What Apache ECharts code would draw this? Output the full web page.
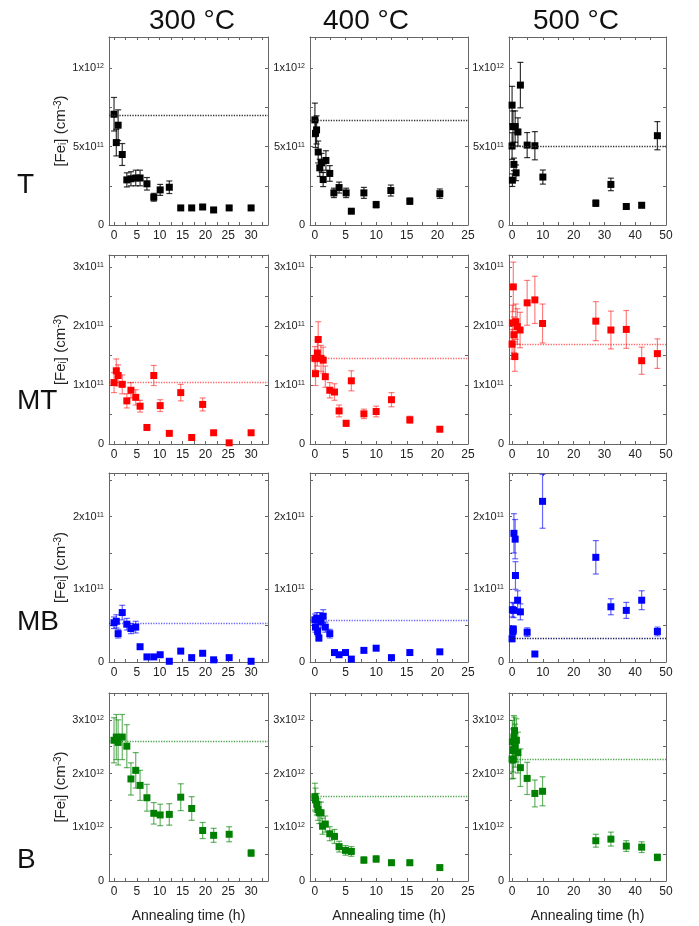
<!DOCTYPE html>
<html>
<head>
<meta charset="utf-8">
<script src="https://cdn.jsdelivr.net/npm/echarts@6.0.0/dist/echarts.min.js"></script>
<style>
html, body { margin: 0; padding: 0; background: #fff; }
#main { width: 699px; height: 926px; }
</style>
</head>
<body>
<div id="main"></div>
<script>
// [annealing time (h), [Fe_i] in row unit, error]
// rows T, MT, MB in 1e11 cm^-3, row B in 1e12 cm^-3
var T300 = [[0,7.07,1.07],[0.5,5.26,0.85],[0.9,6.37,0.98],[1.8,4.5,0.7],[2.8,2.88,0.45],[3.7,2.95,0.45],[4.75,3.0,0.5],[5.7,3.0,0.5],[7.2,2.63,0.4],[8.7,1.77,0.25],[10.1,2.24,0.35],[12.1,2.41,0.4],[14.6,1.09,0.12],[17.0,1.09,0.1],[19.4,1.15,0.12],[21.8,0.96,0.08],[25.2,1.09,0.1],[30.0,1.09,0.1]];
var T400 = [[0,6.71,1.07],[0.1,5.85,0.9],[0.27,6.07,0.9],[0.54,4.66,0.7],[0.8,3.65,0.55],[1.08,3.97,0.6],[1.35,2.9,0.45],[1.8,4.12,0.62],[2.43,3.29,0.5],[3.1,2.05,0.3],[3.95,2.39,0.35],[5.1,2.05,0.3],[5.95,0.88,0.05],[8.0,2.05,0.35],[10.0,1.3,0.2],[12.4,2.2,0.35],[15.5,1.52,0.2],[20.4,2.0,0.3]];
var T500 = [[0,7.65,1.2],[0,5.04,0.85],[0.1,2.86,0.4],[0.3,6.28,1.0],[0.6,3.87,0.4],[1.0,6.28,1.0],[1.3,3.33,0.5],[1.9,5.94,0.9],[2.7,8.93,1.45],[4.9,5.1,0.8],[7.4,5.06,0.9],[10,3.06,0.45],[27.2,1.39,0.2],[32.1,2.59,0.4],[37.1,1.18,0.1],[42.1,1.26,0.15],[47.2,5.7,0.9]];

var MT300 = [[0,1.04,0.17],[0.5,1.24,0.2],[0.9,1.16,0.18],[1.8,1.01,0.16],[2.8,0.73,0.12],[3.7,0.91,0.13],[4.75,0.79,0.13],[5.7,0.64,0.1],[7.2,0.28,0],[8.7,1.16,0.17],[10.1,0.65,0.1],[12.1,0.18,0],[14.6,0.87,0.14],[17.0,0.11,0],[19.4,0.67,0.11],[21.8,0.19,0],[25.2,0.02,0],[30.0,0.19,0]];
var MT400 = [[0,1.45,0.2],[0.1,1.19,0.2],[0.4,1.54,0.22],[0.54,1.77,0.3],[1.0,1.45,0.22],[1.35,1.42,0.22],[1.7,1.14,0.18],[2.43,0.91,0.13],[3.2,0.88,0.14],[3.95,0.56,0.1],[5.1,0.35,0.05],[5.95,1.07,0.17],[8.0,0.51,0.08],[10.0,0.55,0.09],[12.5,0.75,0.12],[15.5,0.41,0.06],[20.4,0.25,0.03]];
var MT500 = [[0,1.69,0.25],[0.1,2.05,0.3],[0.4,2.66,0.42],[0.6,1.85,0.3],[0.9,1.48,0.25],[1.2,2.07,0.3],[1.7,1.99,0.3],[2.6,1.93,0.3],[4.9,2.39,0.38],[7.4,2.44,0.4],[9.9,2.04,0.33],[27.2,2.08,0.33],[32.1,1.93,0.32],[37.1,1.94,0.32],[42.1,1.41,0.23],[47.2,1.53,0.25]];

var MB300 = [[0,0.54,0.08],[0.5,0.56,0.09],[0.9,0.39,0.06],[1.8,0.68,0.1],[2.8,0.52,0.08],[3.7,0.46,0.07],[4.75,0.48,0.08],[5.7,0.21,0],[7.2,0.07,0],[8.7,0.07,0],[10.1,0.1,0],[12.1,0.01,0],[14.6,0.15,0],[17.0,0.06,0],[19.4,0.12,0],[21.8,0.03,0],[25.2,0.06,0],[30.0,0.01,0]];
var MB400 = [[0,0.58,0.08],[0.1,0.48,0.07],[0.3,0.6,0.08],[0.45,0.42,0.06],[0.65,0.33,0.04],[0.8,0.6,0.08],[1.0,0.55,0.08],[1.35,0.63,0.09],[1.7,0.48,0.07],[2.43,0.39,0.06],[3.2,0.13,0],[3.95,0.1,0],[5.0,0.13,0],[5.95,0.04,0],[8.0,0.16,0],[10.0,0.19,0],[12.5,0.06,0],[15.5,0.13,0],[20.4,0.14,0]];
var MB500 = [[0,0.32,0.04],[0.1,0.72,0.1],[0.3,0.42,0.05],[0.4,0.45,0.05],[0.5,0.71,0.1],[0.6,1.77,0.27],[1.0,1.69,0.27],[1.1,1.19,0.19],[1.8,0.85,0.13],[2.7,0.69,0.11],[4.9,0.41,0.06],[7.4,0.11,0],[9.9,2.21,0.37],[27.2,1.44,0.23],[32.1,0.76,0.11],[37.1,0.71,0.11],[42.1,0.85,0.13],[47.2,0.42,0.06]];

var B300 = [[0,2.62,0.42],[0.5,2.68,0.42],[0.9,2.58,0.42],[1.8,2.68,0.42],[2.8,2.51,0.4],[3.7,1.9,0.3],[4.75,2.06,0.33],[5.7,1.78,0.28],[7.2,1.55,0.25],[8.7,1.26,0.2],[10.1,1.23,0.2],[12.1,1.24,0.2],[14.6,1.56,0.25],[17.0,1.35,0.22],[19.4,0.94,0.15],[21.8,0.85,0.13],[25.2,0.87,0.14],[30.0,0.52,0.06]];
var B400 = [[0,1.57,0.25],[0.1,1.51,0.22],[0.3,1.43,0.2],[0.5,1.33,0.2],[0.7,1.27,0.2],[1.0,1.27,0.2],[1.25,1.02,0.15],[1.7,1.06,0.15],[2.43,0.88,0.13],[3.2,0.83,0.13],[3.95,0.64,0.1],[5.0,0.57,0.09],[5.95,0.55,0.09],[8.0,0.39,0.06],[10.0,0.41,0.06],[12.5,0.34,0.05],[15.5,0.34,0.05],[20.4,0.25,0.03]];
var B500 = [[0,2.27,0.37],[0.1,2.59,0.4],[0.3,2.43,0.4],[0.4,2.26,0.35],[0.6,2.68,0.4],[0.8,2.8,0.25],[1.0,2.52,0.4],[1.4,2.62,0.4],[1.9,2.39,0.38],[2.7,2.11,0.35],[4.9,1.91,0.3],[7.4,1.63,0.25],[9.9,1.67,0.27],[27.2,0.75,0.12],[32.1,0.78,0.13],[37.1,0.65,0.1],[42.1,0.63,0.1],[47.2,0.44,0.06]];

// initial level (dotted line) per row / column
var refT = [7.03, 6.71, 5.0];
var refMT = [1.04, 1.45, 1.69];
var refMB = [0.53, 0.58, 0.32];
var refB = [2.6, 1.57, 2.26];

var rowNames = ['T', 'MT', 'MB', 'B'];
var temps = ['300 °C', '400 °C', '500 °C'];

// axis ticks
var xMin = [-1.1, -0.8, -1];
var xMax = [33.7, 25, 50];
var xTicks = [[0, 5, 10, 15, 20, 25, 30], [0, 5, 10, 15, 20, 25], [0, 10, 20, 30, 40, 50]];
var xMinor = [[2.5, 7.5, 12.5, 17.5, 22.5, 27.5, 32.5], [2.5, 7.5, 12.5, 17.5, 22.5], [5, 15, 25, 35, 45]];
var yMax = [12, 3.2, 2.6, 3.5];
var yTicks = [[0, 5, 10], [0, 1, 2, 3], [0, 1, 2], [0, 1, 2, 3]];
var yMinor = [[2.5, 7.5], [0.5, 1.5, 2.5], [0.5, 1.5, 2.5], [0.5, 1.5, 2.5]];
var yTickText = [
    ['0', '5x10{s|11}', '1x10{s|12}'],
    ['0', '1x10{s|11}', '2x10{s|11}', '3x10{s|11}'],
    ['0', '1x10{s|11}', '2x10{s|11}'],
    ['0', '1x10{s|12}', '2x10{s|12}', '3x10{s|12}']
];

var panels = [[T300, T400, T500], [MT300, MT400, MT500], [MB300, MB400, MB500], [B300, B400, B500]];
var refs = [refT, refMT, refMB, refB];

// layout / style
var colLeft = [109, 310, 509];
var colRight = [268, 468, 666];
var rowTop = [37, 255, 473, 693];
var rowBottom = [225, 444, 662, 881];
var headerX = [187, 361, 571];
var colors = ['#000000', '#ff0000', '#0000ff', '#008000'];
var errColors = ['rgba(0,0,0,0.8)', 'rgba(255,0,0,0.5)', 'rgba(0,0,255,0.6)', 'rgba(0,128,0,0.6)'];
var dotColors = ['#333333', 'rgba(255,0,0,0.6)', 'rgba(0,0,255,0.6)', 'rgba(0,128,0,0.7)'];
var font = 'Liberation Sans, Arial, sans-serif';
var frame = '#666';

var chart = echarts.init(document.getElementById('main'));

var grids = [], xAxes = [], yAxes = [], series = [];
var titles = [];

temps.forEach(function (t, c) {
    titles.push({
        text: t, left: headerX[c], top: 2, textAlign: 'center',
        textStyle: { fontSize: 28, fontWeight: 'normal', color: '#111', fontFamily: font }
    });
});
rowNames.forEach(function (n, r) {
    titles.push({
        text: n, left: 12, top: [166, 382, 603, 841][r],
        textStyle: { fontSize: 28, fontWeight: 'normal', color: '#111', fontFamily: font }
    });
});

function errorRender(color) {
    return function (params, api) {
        var x = api.value(0), y = api.value(1), e = api.value(2);
        if (!e) return null;
        var top = api.coord([x, y + e]);
        var bot = api.coord([x, y - e]);
        var w = 3;
        var st = { stroke: color, lineWidth: 1.2 };
        return {
            type: 'group',
            children: [
                { type: 'line', shape: { x1: top[0], y1: top[1], x2: bot[0], y2: bot[1] }, style: st },
                { type: 'line', shape: { x1: top[0] - w, y1: top[1], x2: top[0] + w, y2: top[1] }, style: st },
                { type: 'line', shape: { x1: bot[0] - w, y1: bot[1], x2: bot[0] + w, y2: bot[1] }, style: st }
            ]
        };
    };
}

function labelFormatter(r) {
    return function (v) {
        var i = yTicks[r].indexOf(v);
        return i >= 0 ? yTickText[r][i] : '';
    };
}

for (let r = 0; r < 4; r++) {
    for (let c = 0; c < 3; c++) {
        let gi = grids.length;
        grids.push({
            left: colLeft[c], width: colRight[c] - colLeft[c],
            top: rowTop[r], height: rowBottom[r] - rowTop[r]
        });
        ['bottom', 'top'].forEach(function (pos) {
            xAxes.push({
                type: 'value', gridIndex: gi, position: pos,
                min: xMin[c], max: xMax[c],
                axisLine: { show: true, onZero: false, lineStyle: { color: frame, width: 1 } },
                axisTick: { show: true, inside: true, length: 3, customValues: xTicks[c].concat(xMinor[c]), lineStyle: { color: frame } },
                axisLabel: { show: pos === 'bottom', customValues: xTicks[c], color: '#222', fontSize: 12, margin: 5, fontFamily: font },
                splitLine: { show: false },
                name: (pos === 'bottom' && r === 3) ? 'Annealing time (h)' : '',
                nameLocation: 'middle', nameGap: 28,
                nameTextStyle: { fontSize: 14, color: '#222', fontFamily: font }
            });
        });
        ['left', 'right'].forEach(function (pos) {
            yAxes.push({
                type: 'value', gridIndex: gi, position: pos,
                min: 0, max: yMax[r],
                axisLine: { show: true, onZero: false, lineStyle: { color: frame, width: 1 } },
                axisTick: { show: true, inside: true, length: 3, customValues: yTicks[r].concat(yMinor[r]), lineStyle: { color: frame } },
                axisLabel: {
                    show: pos === 'left', customValues: yTicks[r], margin: 5,
                    color: '#222', fontSize: 11, fontFamily: font,
                    formatter: labelFormatter(r),
                    rich: { s: { fontSize: 7, lineHeight: 8, verticalAlign: 'top', color: '#222', fontFamily: font } }
                },
                splitLine: { show: false },
                name: (pos === 'left' && c === 0) ? '[Fe{b|i}] (cm{s|-3})' : '',
                nameLocation: 'middle', nameRotate: 90, nameGap: 41,
                nameTextStyle: {
                    fontSize: 15, color: '#222', fontFamily: font,
                    rich: {
                        s: { fontSize: 10, lineHeight: 10, verticalAlign: 'top', color: '#222', fontFamily: font },
                        b: { fontSize: 10, lineHeight: 10, verticalAlign: 'bottom', color: '#222', fontFamily: font }
                    }
                }
            });
        });
        let xi = gi * 2, yi = gi * 2;
        series.push({
            type: 'custom', xAxisIndex: xi, yAxisIndex: yi, z: 2,
            renderItem: errorRender(errColors[r]),
            encode: { x: 0, y: 1 },
            data: panels[r][c], silent: true
        });
        series.push({
            type: 'scatter', xAxisIndex: xi, yAxisIndex: yi, z: 3,
            symbol: 'rect', symbolSize: 7,
            itemStyle: { color: colors[r], opacity: 1 },
            data: panels[r][c].map(function (d) { return [d[0], d[1]]; }),
            markLine: {
                silent: true, symbol: 'none', label: { show: false },
                lineStyle: { type: 'dotted', width: 1.3, color: (r === 2 && c === 2) ? '#1a1a66' : dotColors[r] },
                data: [{ yAxis: refs[r][c] }]
            }
        });
    }
}

var option = {
    animation: false,
    backgroundColor: '#fff',
    title: titles,
    grid: grids,
    xAxis: xAxes,
    yAxis: yAxes,
    series: series
};
chart.setOption(option);
</script>
</body>
</html>
